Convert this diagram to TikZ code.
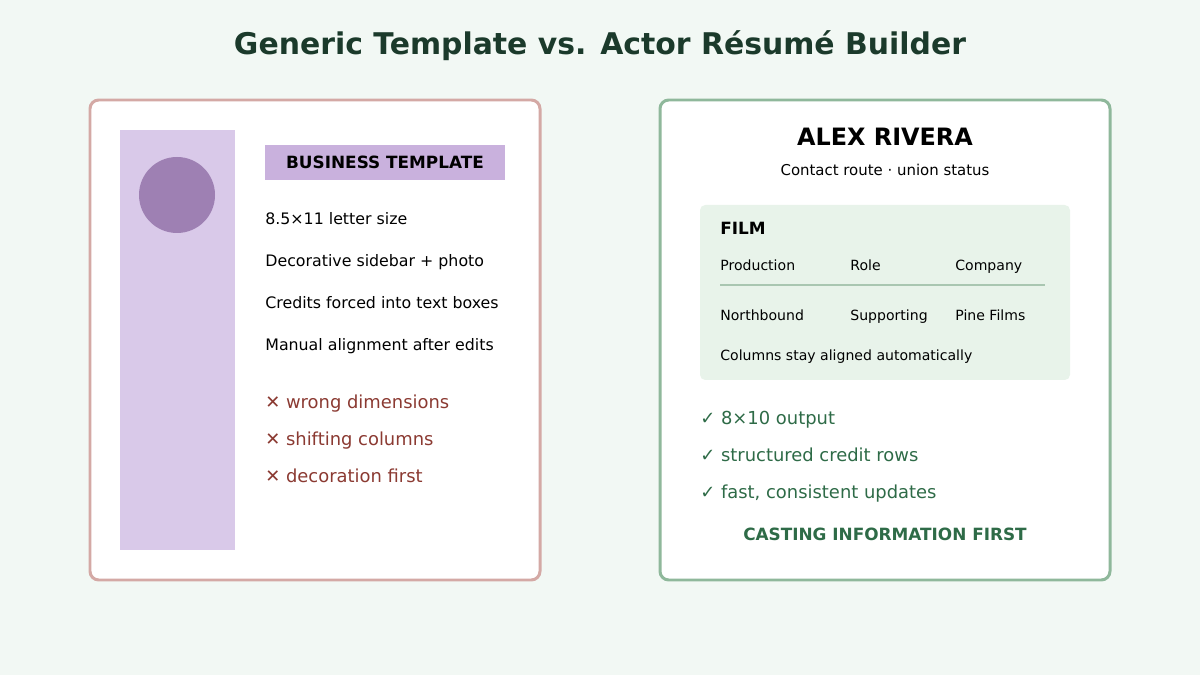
\documentclass[tikz,border=0pt]{standalone}
\usepackage{fontspec}
\setmainfont{DejaVu Sans}
\definecolor{bg}{HTML}{F2F8F4}
\definecolor{redline}{HTML}{D4A9A5}
\definecolor{greenline}{HTML}{8FB89B}
\definecolor{side}{HTML}{D9C9E9}
\definecolor{photo}{HTML}{9E80B3}
\definecolor{tag}{HTML}{C9B1DD}
\definecolor{bad}{HTML}{8B3A32}
\definecolor{good}{HTML}{2E6B47}
\definecolor{film}{HTML}{E8F3EA}
\definecolor{rule}{HTML}{A9C6B1}
\definecolor{titlec}{HTML}{1B3A2B}
\begin{document}
\begin{tikzpicture}[x=0.02cm, y=-0.02cm,
        card/.style={draw, line width=1.7pt, fill=white, rounded corners=5pt},
        even/.style={text height=1.5ex, text depth=0.3ex},
        txt/.style={even, anchor=west, inner sep=0pt, font=\fontsize{9}{11}\selectfont},
        cell/.style={even, anchor=west, inner sep=0pt, font=\fontsize{8}{10}\selectfont},
        bad/.style={even, anchor=west, inner sep=0pt, text=bad, font=\fontsize{10.2}{12}\selectfont},
        good/.style={even, anchor=west, inner sep=0pt, text=good, font=\fontsize{10.2}{12}\selectfont}
    ]

    \fill [bg] (0,0) rectangle (1200,675);
    \node [text=titlec, font=\bfseries\fontsize{17}{20}\selectfont] (title) at (600,46) {Generic Template vs. Actor Résumé Builder};

    % generic template
    \draw [card, draw=redline] (90,100) rectangle (540,580);
    \fill [side] (120,130) rectangle (235,550);
    \fill [photo] (177,195) circle (38);
    \fill [tag] (265,145) rectangle (505,180);
    \node [even, font=\bfseries\fontsize{9.6}{12}\selectfont] (tagtxt) at (385,162.5) {BUSINESS TEMPLATE};
    \node [txt] (l1) at (265,219) {8.5×11 letter size};
    \node [txt] (l2) at (265,261) {Decorative sidebar + photo};
    \node [txt] (l3) at (265,303) {Credits forced into text boxes};
    \node [txt] (l4) at (265,345) {Manual alignment after edits};
    \node [bad] (b1) at (265,403) {✕ wrong dimensions};
    \node [bad] (b2) at (265,440) {✕ shifting columns};
    \node [bad] (b3) at (265,477) {✕ decoration first};

    % actor resume
    \draw [card, draw=greenline] (660,100) rectangle (1110,580);
    \node [font=\bfseries\fontsize{13.6}{16}\selectfont] (name) at (885,137) {ALEX RIVERA};
    \node [font=\fontsize{8.5}{10}\selectfont] (contact) at (885,170) {Contact route · union status};
    \fill [film, rounded corners=3pt] (700,205) rectangle (1070,380);
    \node [anchor=west, inner sep=0pt, even, font=\bfseries\fontsize{9.6}{12}\selectfont] (film) at (720,229) {FILM};
    \node [cell] (h1) at (720,265) {Production};
    \node [cell] (h2) at (850,265) {Role};
    \node [cell] (h3) at (955,265) {Company};
    \draw [rule, line width=0.8pt] (720,285) -- (1045,285);
    \node [cell] (r1) at (720,315) {Northbound};
    \node [cell] (r2) at (850,315) {Supporting};
    \node [cell] (r3) at (955,315) {Pine Films};
    \node [cell] (note) at (720,355) {Columns stay aligned automatically};
    \node [good] (g1) at (700,419) {✓ 8×10 output};
    \node [good] (g2) at (700,456) {✓ structured credit rows};
    \node [good] (g3) at (700,493) {✓ fast, consistent updates};
    \node [text=good, font=\bfseries\fontsize{9.6}{12}\selectfont] (first) at (885,534) {CASTING INFORMATION FIRST};

\end{tikzpicture}
\end{document}
